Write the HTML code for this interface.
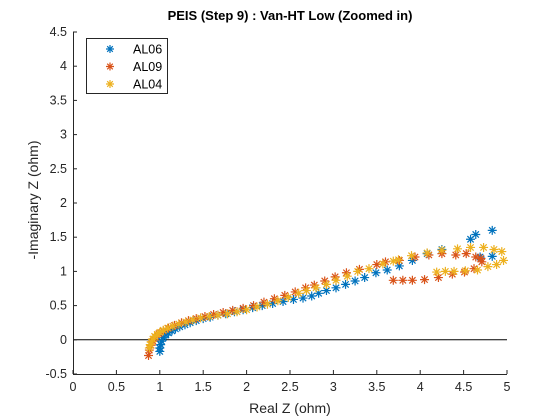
<!DOCTYPE html>
<html><head><meta charset="utf-8"><style>
html,body{margin:0;padding:0;background:#fff;}
svg{display:block;font-family:"Liberation Sans",sans-serif;}
</style></head><body>
<svg id="chart" width="560" height="420" viewBox="0 0 560 420">
<rect width="560" height="420" fill="#fff"/>
<text x="290" y="20" text-anchor="middle" font-size="13" font-weight="bold">PEIS (Step 9) : Van-HT Low (Zoomed in)</text>
<g id="axes"></g>
<g id="marks"></g>
<text x="290" y="413" text-anchor="middle" font-size="14" fill="#262626">Real Z (ohm)</text>
<text transform="translate(38,200) rotate(-90)" text-anchor="middle" font-size="14" fill="#262626">-Imaginary Z (ohm)</text>
<g>
<rect x="86.5" y="38.5" width="81" height="55" fill="#fff" stroke="#262626" stroke-width="1"/>
<g id="legend-items"></g>
</g>
</svg>
<script>
const xTicks=[0,0.5,1,1.5,2,2.5,3,3.5,4,4.5,5];
const yTicks=[-0.5,0,0.5,1,1.5,2,2.5,3,3.5,4,4.5];
const seriesNames=["AL06","AL09","AL04"];
const seriesColors=["#0072BD","#D95319","#EDB120"];
const al06X=[1.0,1.0,1.01,1.02,1.04,1.07,1.1,1.14,1.18,1.23,1.29,1.35,1.42,1.5,1.58,1.67,1.76,1.86,1.96,2.07,2.18,2.3,2.42,2.54,2.65,2.75,2.83,2.92,3.03,3.14,3.25,3.36,3.49,3.62,3.76,3.91,4.08,4.25,4.69,4.83,4.58,4.64,4.83];
const al06Y=[-0.17,-0.12,-0.07,-0.02,0.03,0.07,0.1,0.13,0.16,0.19,0.22,0.25,0.28,0.31,0.33,0.36,0.38,0.41,0.44,0.47,0.5,0.53,0.56,0.59,0.61,0.64,0.68,0.72,0.76,0.81,0.86,0.91,0.98,1.02,1.08,1.16,1.26,1.32,1.21,1.22,1.47,1.54,1.6];
const al09X=[0.87,0.88,0.9,0.92,0.95,0.99,1.04,1.1,1.17,1.25,1.33,1.42,1.52,1.62,1.73,1.84,1.96,2.08,2.2,2.32,2.44,2.56,2.68,2.78,2.9,3.02,3.15,3.3,3.5,3.6,3.76,3.94,4.1,4.25,4.41,4.53,4.64,4.7,4.71,4.62,4.51,4.37,4.21,4.05,3.91,3.8,3.69];
const al09Y=[-0.23,-0.15,-0.08,-0.02,0.04,0.09,0.13,0.17,0.21,0.25,0.28,0.31,0.34,0.37,0.4,0.43,0.46,0.5,0.55,0.6,0.65,0.7,0.76,0.8,0.86,0.92,0.98,1.03,1.1,1.14,1.16,1.21,1.24,1.26,1.24,1.26,1.21,1.19,1.14,1.04,0.99,0.96,0.91,0.88,0.87,0.87,0.87];
const al04X=[0.88,0.89,0.9,0.92,0.94,0.97,1.0,1.04,1.09,1.15,1.22,1.3,1.38,1.47,1.57,1.67,1.78,1.89,2.0,2.12,2.24,2.36,2.48,2.6,2.69,2.8,2.92,3.03,3.16,3.28,3.41,3.57,3.69,3.75,3.9,4.08,4.25,4.43,4.58,4.73,4.85,4.94,4.96,4.88,4.78,4.66,4.52,4.39,4.29,4.19];
const al04Y=[-0.12,-0.07,-0.03,0.01,0.05,0.08,0.11,0.14,0.17,0.2,0.23,0.26,0.29,0.32,0.34,0.36,0.38,0.41,0.44,0.48,0.52,0.57,0.62,0.68,0.72,0.76,0.81,0.87,0.93,1.0,1.04,1.11,1.15,1.17,1.23,1.27,1.31,1.33,1.35,1.35,1.32,1.29,1.16,1.1,1.07,1.02,1.01,1.0,1.0,0.99];

const NS="http://www.w3.org/2000/svg";
const X0=73,X1=507,Y0=374,Y1=32,xmin=0,xmax=5,ymin=-0.5,ymax=4.5;
function sx(v){return X0+(v-xmin)/(xmax-xmin)*(X1-X0);}
function sy(v){return Y0-(v-ymin)/(ymax-ymin)*(Y0-Y1);}
function mk(tag,attrs,parent){const e=document.createElementNS(NS,tag);for(const k in attrs)e.setAttribute(k,attrs[k]);parent.appendChild(e);return e;}
const axes=document.getElementById('axes');
let l=mk('line',{x1:X0,y1:Y0+0.5,x2:X1,y2:Y0+0.5,stroke:'#262626','stroke-width':1},axes);


l=mk('line',{x1:X0+0.5,y1:Y1,x2:X0+0.5,y2:Y0,stroke:'#262626','stroke-width':1},axes);


l=mk('line',{x1:X0,y1:sy(0),x2:X1,y2:sy(0),stroke:'#000','stroke-width':1},axes);


xTicks.forEach(t=>{
 const x=sx(t);
 const tk=mk('line',{x1:x,y1:Y0,x2:x,y2:Y0-4,stroke:'#262626'},axes);
 
 
 const tx=mk('text',{x:x,y:Y0+17,'text-anchor':'middle','font-size':12.5,fill:'#262626'},axes);
 tx.textContent=String(t);
 
 
});
yTicks.forEach(t=>{
 const y=sy(t);
 const tk=mk('line',{x1:X0,y1:y,x2:X0+4,y2:y,stroke:'#262626'},axes);
 
 
 const tx=mk('text',{x:X0-6,y:y+4,'text-anchor':'end','font-size':12.5,fill:'#262626'},axes);
 tx.textContent=String(t);
 
 
});
function star(g,cx,cy,c,r){
 const d=`M${cx-r},${cy}H${cx+r}M${cx},${cy-r}V${cy+r}M${cx-r*0.7},${cy-r*0.7}L${cx+r*0.7},${cy+r*0.7}M${cx-r*0.7},${cy+r*0.7}L${cx+r*0.7},${cy-r*0.7}`;
 return mk('path',{d:d,stroke:c,'stroke-width':1.2,fill:'none'},g);
}
const marks=document.getElementById('marks');
const allX=[al06X,al09X,al04X],allY=[al06Y,al09Y,al04Y];
allX.forEach((xs,i)=>{
 const g=mk('g',{},marks);
 
 
 xs.forEach((xv,j)=>{
  const p=star(g,sx(xv),sy(allY[i][j]),seriesColors[i],4.5);
  
  
 });
});
const li=document.getElementById('legend-items');
seriesNames.forEach((n,i)=>{
 const y=49+i*17.5;
 const g=mk('g',{},li);
 
 
 star(g,110,y,seriesColors[i],4);
 const t=mk('text',{x:133,y:y+4.5,'font-size':12.5,fill:'#000'},g);
 t.textContent=n;
});
</script>
</body></html>
